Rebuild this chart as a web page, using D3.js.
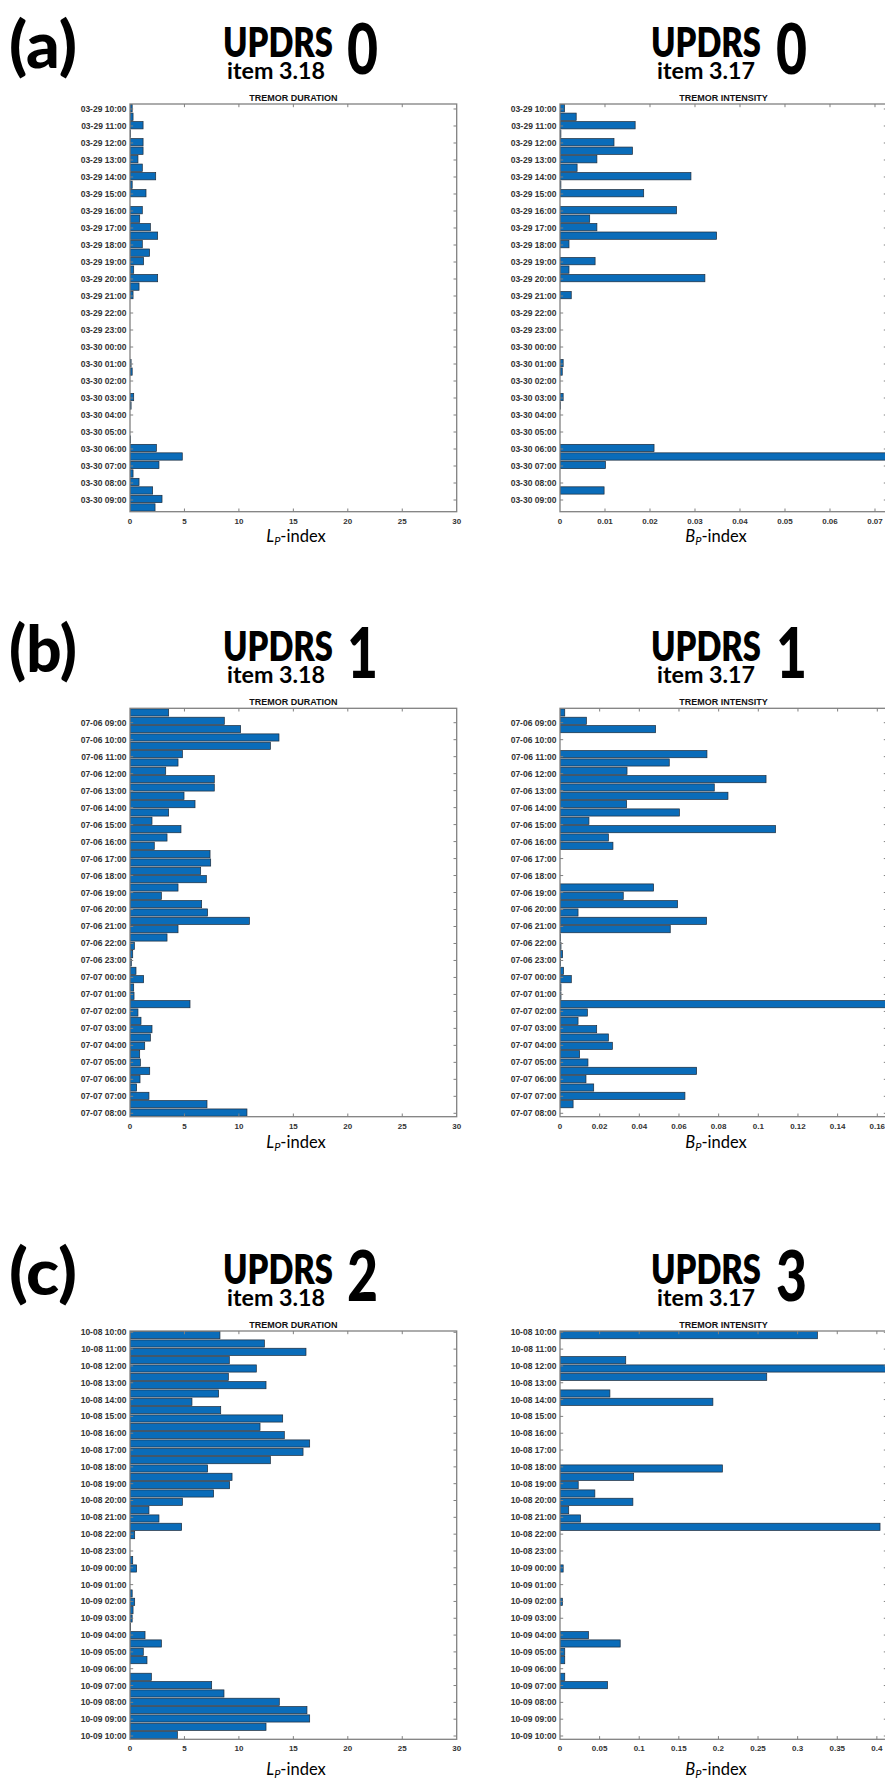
<!DOCTYPE html>
<html><head><meta charset="utf-8">
<script src="https://cdn.jsdelivr.net/npm/d3@7"></script>
<style>body{margin:0;background:#fff}svg{display:block}</style>
</head><body>
<svg id="chart" width="885" height="1781"></svg>
<script>
// ---------------- DATA ----------------
const aTimeLabels = ["03-29 10:00","03-29 11:00","03-29 12:00","03-29 13:00","03-29 14:00","03-29 15:00","03-29 16:00","03-29 17:00","03-29 18:00","03-29 19:00","03-29 20:00","03-29 21:00","03-29 22:00","03-29 23:00","03-30 00:00","03-30 01:00","03-30 02:00","03-30 03:00","03-30 04:00","03-30 05:00","03-30 06:00","03-30 07:00","03-30 08:00","03-30 09:00"];
const bTimeLabels = ["07-06 09:00","07-06 10:00","07-06 11:00","07-06 12:00","07-06 13:00","07-06 14:00","07-06 15:00","07-06 16:00","07-06 17:00","07-06 18:00","07-06 19:00","07-06 20:00","07-06 21:00","07-06 22:00","07-06 23:00","07-07 00:00","07-07 01:00","07-07 02:00","07-07 03:00","07-07 04:00","07-07 05:00","07-07 06:00","07-07 07:00","07-07 08:00"];
const cTimeLabels = ["10-08 10:00","10-08 11:00","10-08 12:00","10-08 13:00","10-08 14:00","10-08 15:00","10-08 16:00","10-08 17:00","10-08 18:00","10-08 19:00","10-08 20:00","10-08 21:00","10-08 22:00","10-08 23:00","10-09 00:00","10-09 01:00","10-09 02:00","10-09 03:00","10-09 04:00","10-09 05:00","10-09 06:00","10-09 07:00","10-09 08:00","10-09 09:00","10-09 10:00"];

// Tremor duration (Lp-index), one value per half-hour bar
const aDuration = [0.2,0.28,1.2,0.05,1.2,1.2,0.73,1.13,2.36,0.2,1.47,0,1.13,0.89,1.87,2.54,1.13,1.8,1.25,0.34,2.54,0.83,0.28,0,0,0,0,0,0,0,0.1,0.2,0,0,0.34,0.1,0,0,0,0.05,2.42,4.8,2.66,0.28,0.83,2.08,2.94,2.3];
const bDuration = [3.55,8.66,10.16,13.68,12.89,4.81,4.41,3.28,7.74,7.74,4.96,5.97,3.55,2.02,4.68,3.4,2.23,7.35,7.41,6.49,7.01,4.41,2.88,6.58,7.13,10.96,4.41,3.4,0.4,0.25,0.12,0.55,1.25,0.34,0.37,5.51,0.73,1.01,2.02,1.87,1.35,0.89,0.95,1.81,0.92,0.61,1.74,7.07,10.74];
const cDuration = [8.26,12.34,16.16,9.12,11.6,9.03,12.49,8.14,5.69,8.33,14.02,11.94,14.17,16.5,15.89,12.89,7.13,9.37,9.15,7.68,4.81,1.74,2.66,4.74,0.43,0,0,0.25,0.61,0,0,0.2,0.43,0.28,0.2,0.06,1.38,2.88,1.22,1.56,0,1.96,7.5,8.63,13.71,16.25,16.5,12.49,4.35];

// Tremor intensity (Bp-index)
const aIntensity = [0.001,0.0036,0.0167,0.0002,0.012,0.0161,0.0082,0.0038,0.0291,0.0002,0.0186,0,0.0259,0.0066,0.0082,0.0348,0.002,0,0.0078,0.002,0.0322,0,0.0025,0,0,0,0,0,0,0,0.0007,0.0005,0,0,0.0007,0.0001,0,0,0,0,0.0209,0.09,0.0101,0,0,0.0098,0,0];
const bIntensity = [0.0024,0.0133,0.0482,0,0,0.0741,0.0551,0.0338,0.1039,0.0778,0.0847,0.0336,0.0602,0.0146,0.1087,0.0244,0.0267,0,0,0,0,0.0472,0.0319,0.0593,0.0091,0.0739,0.0556,0.0003,0.0005,0.0013,0.0003,0.0018,0.0057,0.0005,0.0005,0.2,0.0138,0.0091,0.0185,0.0244,0.0264,0.0099,0.0141,0.0689,0.0131,0.017,0.063,0.0066,0];
const cIntensity = [0.325,0,0,0.083,0.5,0.261,0,0.063,0.193,0,0,0,0,0,0,0,0.205,0.093,0.023,0.044,0.092,0.011,0.026,0.404,0,0,0,0,0.004,0,0,0,0.003,0,0,0,0.036,0.076,0.006,0.006,0,0.006,0.06,0,0,0,0,0,0];

const durationTicks = [0,5,10,15,20,25,30];
const aIntensityTicks = [0,0.01,0.02,0.03,0.04,0.05,0.06,0.07];
const bIntensityTicks = [0,0.02,0.04,0.06,0.08,0.1,0.12,0.14,0.16];
const cIntensityTicks = [0,0.05,0.1,0.15,0.2,0.25,0.3,0.35,0.4];

const panelLetters = ["(a)","(b)","(c)"];
const durationScores = ["0","1","2"];
const intensityScores = ["0","1","3"];

// ---------------- LAYOUT ----------------
const svg = d3.select("#chart");
const BAR_FILL = "#0a6cb9", BAR_EDGE = "#1d2b3a", AXIS = "#808080";
const LEFT = {x0:130, x1:456.7, xlabCx:296};
const RIGHT = {x0:560, x1:887, xlabCx:716};

const panels = [
  {top:104, bottom:511.7, labels:aTimeLabels, hDomain:[9.706,33.688], dur:aDuration, inten:aIntensity,
   intDomain:[0,0.07267], intTicks:aIntensityTicks, xlabOff:30.6},
  {top:708.3, bottom:1116.7, labels:bTimeLabels, hDomain:[8.152,32.2], dur:bDuration, inten:bIntensity,
   intDomain:[0,0.1649], intTicks:bIntensityTicks, xlabOff:31},
  {top:1331, bottom:1739.3, labels:cTimeLabels, hDomain:[9.923,34.196], dur:cDuration, inten:cIntensity,
   intDomain:[0,0.4128], intTicks:cIntensityTicks, xlabOff:36}
];

function hourOf(label, firstLabel) {
  const day = +label.slice(3,5), d0 = +firstLabel.slice(3,5);
  return (day - d0) * 24 + (+label.slice(6,8)) + (+label.slice(9,11)) / 60;
}
function fmt(v){ return v === 0 ? "0" : String(+v.toFixed(3)); }

let clipId = 0;
function drawPlot(p, side, values, xDomain, xTicks, title, varLetter) {
  const g = svg.append("g");
  const x = d3.scaleLinear().domain(xDomain).range([side.x0, side.x1]);
  const yBand = d3.scaleBand().domain(d3.range(values.length))
    .range([p.top, p.bottom]).paddingInner(0.14).paddingOuter(0.07);
  const yTime = d3.scaleLinear().domain(p.hDomain).range([p.top, p.bottom]);
  const id = "clip" + (clipId++);
  svg.append("clipPath").attr("id", id).append("rect")
    .attr("x", side.x0).attr("y", p.top).attr("width", side.x1 - side.x0).attr("height", p.bottom - p.top);

  g.append("g").attr("clip-path", `url(#${id})`)
    .selectAll("rect").data(values.map((v,i)=>({v,i})).filter(d=>d.v>0)).join("rect")
    .attr("x", x(0)).attr("y", d => yBand(d.i))
    .attr("width", d => Math.max(0, x(Math.min(d.v, xDomain[1]*1.2)) - x(0)))
    .attr("height", yBand.bandwidth())
    .attr("fill", BAR_FILL).attr("stroke", BAR_EDGE).attr("stroke-width", 0.7);

  // frame
  g.append("rect").attr("x", side.x0).attr("y", p.top)
    .attr("width", side.x1 - side.x0).attr("height", p.bottom - p.top)
    .attr("fill", "none").attr("stroke", AXIS).attr("stroke-width", 1.3);

  // y ticks + labels
  const yt = g.append("g");
  p.labels.forEach(lab => {
    const yy = yTime(hourOf(lab, p.labels[0]));
    yt.append("line").attr("x1", side.x0).attr("x2", side.x0 + 3.2).attr("y1", yy).attr("y2", yy)
      .attr("stroke", AXIS).attr("stroke-width", 1);
    yt.append("line").attr("x1", side.x1 - 3.2).attr("x2", side.x1).attr("y1", yy).attr("y2", yy)
      .attr("stroke", AXIS).attr("stroke-width", 1);
    yt.append("text").attr("x", side.x0 - 3.5).attr("y", yy).attr("dy", "0.35em")
      .attr("text-anchor", "end").attr("font-family", "Liberation Sans, Arial, sans-serif")
      .attr("font-weight", "bold").attr("font-size", 8.5).attr("fill", "#333").text(lab);
  });

  // x ticks + labels
  const xt = g.append("g");
  xTicks.forEach(t => {
    const xx = x(t);
    if (t > xDomain[0] && xx < side.x1 - 1) {
      xt.append("line").attr("x1", xx).attr("x2", xx).attr("y1", p.top).attr("y2", p.top + 3.2)
        .attr("stroke", AXIS).attr("stroke-width", 1);
      xt.append("line").attr("x1", xx).attr("x2", xx).attr("y1", p.bottom - 3.2).attr("y2", p.bottom)
        .attr("stroke", AXIS).attr("stroke-width", 1);
    }
    xt.append("text").attr("x", xx).attr("y", p.bottom + 12).attr("text-anchor", "middle")
      .attr("font-family", "Liberation Sans, Arial, sans-serif").attr("font-weight", "bold")
      .attr("font-size", 8).attr("fill", "#333").text(fmt(t));
  });

  // title
  g.append("text").attr("x", (side.x0 + side.x1) / 2).attr("y", p.top - 3).attr("text-anchor", "middle")
    .attr("font-family", "Liberation Sans, Arial, sans-serif").attr("font-weight", "bold")
    .attr("font-size", 9).attr("fill", "#111").text(title);

  // x label
  const xl = g.append("text").attr("x", side.xlabCx).attr("y", p.bottom + p.xlabOff)
    .attr("text-anchor", "middle").attr("font-family", "Lato, 'Open Sans', sans-serif")
    .attr("font-size", 16.5).attr("fill", "#000");
  xl.append("tspan").attr("font-style", "italic").text(varLetter);
  xl.append("tspan").attr("font-style", "italic").attr("font-size", 11).attr("dy", 3).text("P");
  xl.append("tspan").attr("dy", -3).text("-index");
}

function header(p, i) {
  const T = p.top;
  const F = "Lato, 'Open Sans', sans-serif";
  svg.append("text").attr("x", 9).attr("y", T - 36).attr("font-family", F).attr("font-weight", 900)
    .attr("font-size", 64).attr("textLength", 68).attr("lengthAdjust", "spacingAndGlyphs").text(panelLetters[i]);
  const blocks = [
    {ux:223, dx:347, ix:227, score:durationScores[i], item:"item 3.18"},
    {ux:651, dx:776, ix:657, score:intensityScores[i], item:"item 3.17"}
  ];
  blocks.forEach(b => {
    svg.append("text").attr("x", b.ux).attr("y", T - 47).attr("font-family", F).attr("font-weight", 800)
      .attr("font-size", 42).attr("textLength", 110).attr("lengthAdjust", "spacingAndGlyphs").text("UPDRS");
    svg.append("text").attr("x", b.dx).attr("y", T - 30).attr("font-family", F).attr("font-weight", 900)
      .attr("font-size", 70).attr("textLength", 31).attr("lengthAdjust", "spacingAndGlyphs").text(b.score);
    svg.append("text").attr("x", b.ix).attr("y", T - 25).attr("font-family", F).attr("font-weight", 700)
      .attr("font-size", 23).attr("textLength", 98).attr("lengthAdjust", "spacingAndGlyphs").text(b.item);
  });
}

panels.forEach((p, i) => {
  header(p, i);
  drawPlot(p, LEFT, p.dur, [0, 30], durationTicks, "TREMOR DURATION", "L");
  drawPlot(p, RIGHT, p.inten, p.intDomain, p.intTicks, "TREMOR INTENSITY", "B");
});
</script>
</body></html>
